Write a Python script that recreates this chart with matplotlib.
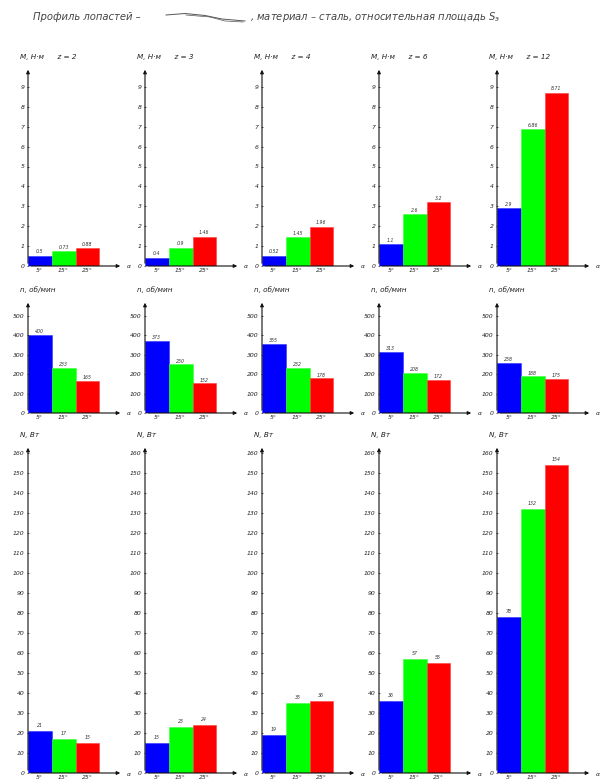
import matplotlib.pyplot as plt

# --- Data ---
z_values = [2, 3, 4, 6, 12]
angles = ['5°', '15°', '25°']

# moment M, Н·м
moment = [[0.5, 0.73, 0.88],
          [0.4, 0.9, 1.46],
          [0.52, 1.45, 1.96],
          [1.1, 2.6, 3.2],
          [2.9, 6.86, 8.71]]

# rotation speed n, об/мин
speed = [[400, 233, 165],
         [373, 250, 152],
         [355, 232, 178],
         [313, 208, 172],
         [258, 188, 175]]

# power N, Вт
power = [[21, 17, 15],
         [15, 23, 24],
         [19, 35, 36],
         [36, 57, 55],
         [78, 132, 154]]

bar_colors = ['#0000ff', '#00ff00', '#ff0000']

# --- Layout (pixels of a 601x782 figure) ---
W, H = 601, 782
axis_x = [28, 145, 262, 379, 497]
ax_width = 95

# (data, y of zero line, y of arrow tip, ylim top, tick step, n ticks, header)
rows = [
    (moment, 266, 67, 10.0, 1, 10, 'M, Н·м'),
    (speed, 413, 300, 582, 100, 6, 'n, об/мин'),
    (power, 773, 445, 164, 10, 17, 'N, Вт'),
]


def fx(x):
    return x / W


def fy(y):
    return 1 - y / H


fig = plt.figure(figsize=(W / 100, H / 100), dpi=100)

TXT = dict(fontsize=4.4, style='italic', color='#222222')

for data, y0, ytop, top, step, nticks, header in rows:
    for col, x0 in enumerate(axis_x):
        ax = fig.add_axes([fx(x0), fy(y0), ax_width / W, (y0 - ytop) / H])
        vals = data[col]
        ax.bar(range(3), vals, width=1, align='edge', color=bar_colors,
               edgecolor=['#3030ff', '#40ff40', '#ff4040'], linewidth=0.4,
               zorder=2)
        ax.set_xlim(0, 4.0)
        ax.set_ylim(0, top)
        for s in ax.spines.values():
            s.set_visible(False)
        ax.set_xticks([0.5, 1.5, 2.5])
        ax.set_xticklabels(angles, **TXT)
        ax.tick_params(axis='x', length=0, pad=1.5)
        ticks = [i * step for i in range(nticks)]
        ax.set_yticks(ticks)
        ax.set_yticklabels([str(t) for t in ticks], **TXT)
        ax.tick_params(axis='y', length=2, width=0.5, direction='inout',
                       pad=1.5, colors='#222222')
        ax.patch.set_alpha(0)

        # value labels above the bars
        for i, v in enumerate(vals):
            ax.text(i + 0.5, v + top * 0.008, str(v), ha='center',
                    va='bottom', fontsize=3.3, style='italic',
                    color='#333333')

        # axes with arrows
        ax.annotate('', xy=(0, 1), xytext=(0, 0), xycoords='axes fraction',
                    arrowprops=dict(arrowstyle='-|>', color='#111111',
                                    lw=0.8, mutation_scale=5))
        ax.annotate('', xy=(1, 0), xytext=(0, 0), xycoords='axes fraction',
                    arrowprops=dict(arrowstyle='-|>', color='#111111',
                                    lw=0.8, mutation_scale=5))
        ax.text(1.04, -0.005, 'α', transform=ax.transAxes, ha='left',
                va='center', **TXT)

        # header above the vertical arrow
        head = header
        if data is moment:
            head = f'{header}      z = {z_values[col]}'
        fig.text(fx(x0 - 8), fy(ytop - 10), head, ha='left', va='center',
                 fontsize=5.2, style='italic', color='#222222')

# --- Title with blade profile sketch ---
fig.text(fx(33), fy(17), 'Профиль лопастей –', ha='left', va='center',
         fontsize=7.2, style='italic', color='#444444')
fig.add_artist(plt.Line2D([fx(166), fx(185), fx(205), fx(222), fx(245)],
                          [fy(15), fy(13.5), fy(15.5), fy(19), fy(21)],
                          color='#555555', lw=0.7))
fig.add_artist(plt.Line2D([fx(186), fx(210), fx(225), fx(243)],
                          [fy(15), fy(17), fy(21), fy(22)],
                          color='#555555', lw=0.5))
fig.text(fx(250), fy(17), ', материал – сталь, относительная площадь S$_э$',
         ha='left', va='center', fontsize=7.2, style='italic',
         color='#444444')

fig.savefig('out.png', dpi=100, facecolor='white')
